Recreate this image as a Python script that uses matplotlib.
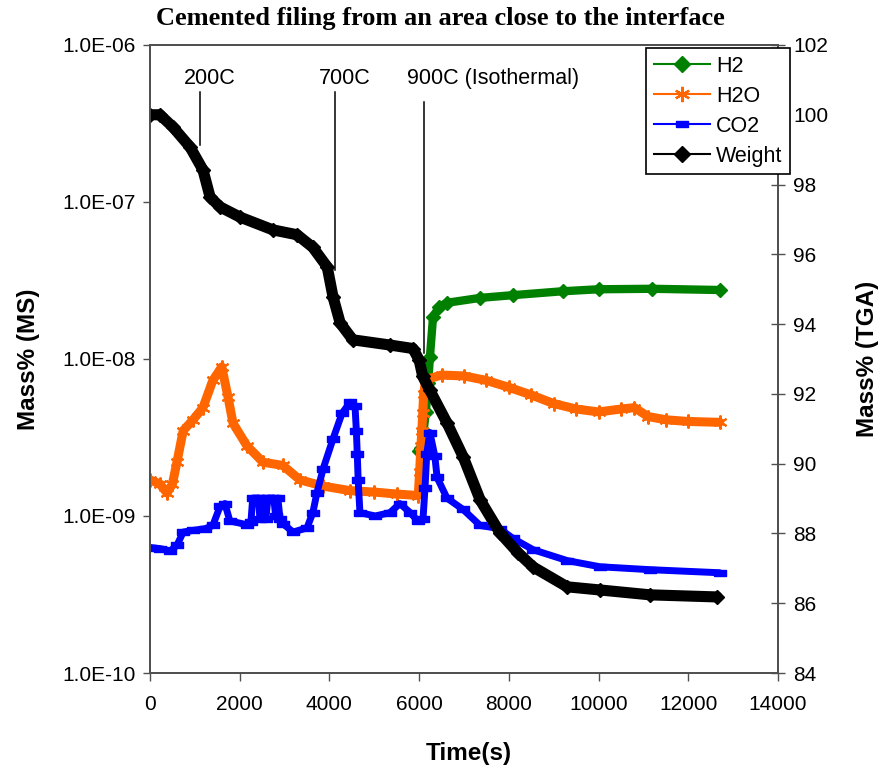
import matplotlib
matplotlib.use('Agg')
import matplotlib.pyplot as plt
from matplotlib.lines import Line2D
from matplotlib.ticker import NullLocator, FixedLocator, FixedFormatter

plt.rcParams['font.family'] = ['Liberation Sans', 'DejaVu Sans']

# data (time in s)
h2_t = [5990, 6050, 6100, 6150, 6200, 6240, 6310, 6450, 6620, 7360, 8090, 9200, 10000, 11200, 12700]
h2_v = [2.6e-9, 2.7e-9, 3.5e-9, 4.6e-9, 7e-9, 1.03e-8, 1.86e-8, 2.15e-8, 2.28e-8, 2.45e-8, 2.55e-8,
        2.7e-8, 2.78e-8, 2.8e-8, 2.75e-8]

h2o_t = [0, 220, 380, 500, 600, 740, 960, 1180, 1400, 1600, 1740, 1850, 2160, 2520, 2960, 3340,
         3860, 4460, 5000, 5500, 5980, 6010, 6040, 6060, 6080, 6100, 6150, 6500, 7000, 7500,
         8000, 8500, 9000, 9500, 10000, 10500, 10800, 11100, 11500, 12000, 12700]
h2o_v = [1.7e-9, 1.6e-9, 1.4e-9, 1.6e-9, 2.2e-9, 3.5e-9, 4.1e-9, 4.9e-9, 7.3e-9, 8.9e-9, 5.7e-9,
         3.9e-9, 2.8e-9, 2.2e-9, 2.1e-9, 1.7e-9, 1.55e-9, 1.45e-9, 1.42e-9, 1.38e-9, 1.35e-9,
         1.9e-9, 2.8e-9, 3.5e-9, 4.5e-9, 6.0e-9, 7.4e-9, 7.9e-9, 7.8e-9, 7.3e-9, 6.6e-9, 5.9e-9,
         5.2e-9, 4.8e-9, 4.6e-9, 4.8e-9, 4.9e-9, 4.3e-9, 4.1e-9, 4.0e-9, 3.95e-9]

co2_t = [0, 220, 450, 600, 740, 960, 1230, 1400, 1560, 1670, 1780, 2160, 2250, 2290, 2420, 2450,
         2520, 2580, 2630, 2760, 2800, 2850, 2900, 2970, 3190, 3500, 3630, 3720, 3860, 4080,
         4280, 4460, 4570, 4600, 4620, 4640, 4680, 5020, 5350, 5570, 5800, 5970, 6085, 6130,
         6170, 6240, 6350, 6400, 6620, 6980, 7360, 7800, 8090, 8540, 9300, 10030, 11150, 12700]
co2_v = [6.3e-10, 6.2e-10, 6.0e-10, 6.5e-10, 7.9e-10, 8.1e-10, 8.3e-10, 8.7e-10, 1.15e-9, 1.2e-9,
         9.3e-10, 8.8e-10, 9.2e-10, 1.3e-9, 1.3e-9, 9.5e-10, 1.3e-9, 9.5e-10, 1.3e-9, 1.3e-9,
         1.0e-9, 1.3e-9, 9.5e-10, 8.9e-10, 7.9e-10, 8.4e-10, 1.05e-9, 1.4e-9, 2.0e-9, 3.1e-9,
         4.5e-9, 5.3e-9, 5.0e-9, 3.5e-9, 2.5e-9, 1.7e-9, 1.05e-9, 1.0e-9, 1.05e-9, 1.2e-9,
         1.05e-9, 9.3e-10, 9.5e-10, 1.5e-9, 2.5e-9, 3.4e-9, 2.4e-9, 1.76e-9, 1.3e-9, 1.1e-9,
         8.7e-10, 8.3e-10, 7.2e-10, 6.1e-10, 5.2e-10, 4.75e-10, 4.55e-10, 4.35e-10]

wt_t = [0, 220, 510, 890, 1180, 1340, 1560, 2000, 2740, 3280, 3630, 3950, 4080, 4240, 4520, 5350,
        5860, 6000, 6080, 6240, 6620, 6980, 7360, 7800, 8200, 8540, 9300, 10030, 11150, 12640]
wt_v = [100.0, 100.0, 99.65, 99.08, 98.42, 97.64, 97.36, 97.07, 96.7, 96.56, 96.2, 95.64, 94.78,
        94.03, 93.55, 93.4, 93.3, 92.97, 92.5, 92.1, 91.17, 90.2, 88.96, 88.02, 87.45, 87.04,
        86.47, 86.38, 86.24, 86.18]

# temperature markers: label, line x, line top, line bottom, label x
temp_labels = ['200C', '700C', '900C (Isothermal)']
temp_x = [1115, 4124, 6108]
temp_top = [100.65, 100.65, 100.37]
temp_bot = [99.13, 95.55, 93.17]
temp_lx = [1337, 4347, 7646]

left_ticks = [1e-10, 1e-9, 1e-8, 1e-7, 1e-6]
left_labels = ['1.0E-10', '1.0E-09', '1.0E-08', '1.0E-07', '1.0E-06']
right_ticks = list(range(84, 103, 2))
x_ticks = list(range(0, 14001, 2000))

green = '#008000'
orange = '#FF6600'
blue = '#0000FF'
spine_c = '#505050'
dash = [(-1, -0.5), (1, -0.5), (1, 0.5), (-1, 0.5), (-1, -0.5)]
aster = (6, 2, 0)

fig = plt.figure(figsize=(8.95, 7.66), dpi=100)
ax = fig.add_axes([0.1676, 0.1214, 0.7017, 0.8199])
ax2 = ax.twinx()

ax.plot(h2_t, h2_v, color=green, lw=6, marker='D', ms=7, mec=green, mfc=green,
        solid_joinstyle='round', solid_capstyle='round')
ax.plot(h2o_t, h2o_v, color=orange, lw=6.5, marker=aster, ms=10, mew=1.5, mec=orange,
        solid_joinstyle='round', solid_capstyle='round')
ax.plot(co2_t, co2_v, color=blue, lw=5, marker=dash, ms=9, mec=blue, mfc=blue,
        solid_joinstyle='round', solid_capstyle='round')
ax2.plot(wt_t, wt_v, color='black', lw=8, marker='D', ms=7, mec='black', mfc='black',
         solid_joinstyle='round', solid_capstyle='round')

for lab, x, t, b, lx in zip(temp_labels, temp_x, temp_top, temp_bot, temp_lx):
    ax2.plot([x, x], [t, b], color='black', lw=1.1)
    ax2.text(lx, 101.05, lab, ha='center', va='center', fontsize=15.5)

ax.set_xlim(0, 14000)
ax.set_yscale('log')
ax.set_ylim(1e-10, 1e-6)
ax.yaxis.set_major_locator(FixedLocator(left_ticks))
ax.yaxis.set_major_formatter(FixedFormatter(left_labels))
ax.yaxis.set_minor_locator(NullLocator())
ax.set_xticks(x_ticks)
ax2.set_ylim(84, 102)
ax2.set_yticks(right_ticks)

ax.tick_params(axis='y', direction='out', length=5, width=1, color=spine_c, labelsize=15, pad=5)
ax.tick_params(axis='x', direction='out', length=6, width=1, color=spine_c, labelsize=15, pad=10)
ax2.tick_params(axis='y', direction='inout', length=10, width=1, color=spine_c, labelsize=15, pad=6)

for a in (ax, ax2):
    for s in a.spines.values():
        s.set_color(spine_c)
        s.set_linewidth(1.3)

ax.set_ylabel('Mass% (MS)', fontsize=17.5, fontweight='bold', va='center')
ax.yaxis.set_label_coords(-0.194, 0.5)
ax2.set_ylabel('Mass% (TGA)', fontsize=17.5, fontweight='bold', va='center')
ax2.yaxis.set_label_coords(1.143, 0.5)
ax.set_xlabel('Time(s)', fontsize=17.5, fontweight='bold', va='center')
ax.xaxis.set_label_coords(0.508, -0.128)

fig.text(440 / 895, 1 - 19 / 766, 'Cemented filing from an area close to the interface',
         ha='center', va='center', fontsize=19, fontweight='bold', family='Liberation Serif')

handles = [
    Line2D([], [], color=green, lw=1.5, marker='D', ms=8, mfc=green, mec=green),
    Line2D([], [], color=orange, lw=1.5, marker=aster, ms=11, mew=1.6, mec=orange),
    Line2D([], [], color=blue, lw=1.5, marker=dash, ms=8, mfc=blue, mec=blue),
    Line2D([], [], color='black', lw=1.5, marker='D', ms=8, mfc='black', mec='black'),
]
leg = ax2.legend(handles, ['H2', 'H2O', 'CO2', 'Weight'], loc='upper right',
                 bbox_to_anchor=(790 / 895, 1 - 48 / 766), bbox_transform=fig.transFigure,
                 fancybox=False, edgecolor='black', framealpha=1, borderaxespad=0,
                 fontsize=15.5, handlelength=2.6, handletextpad=0.3, labelspacing=0.42,
                 borderpad=0.35)
leg.get_frame().set_linewidth(1.2)

fig.savefig('out.png', dpi=100)
